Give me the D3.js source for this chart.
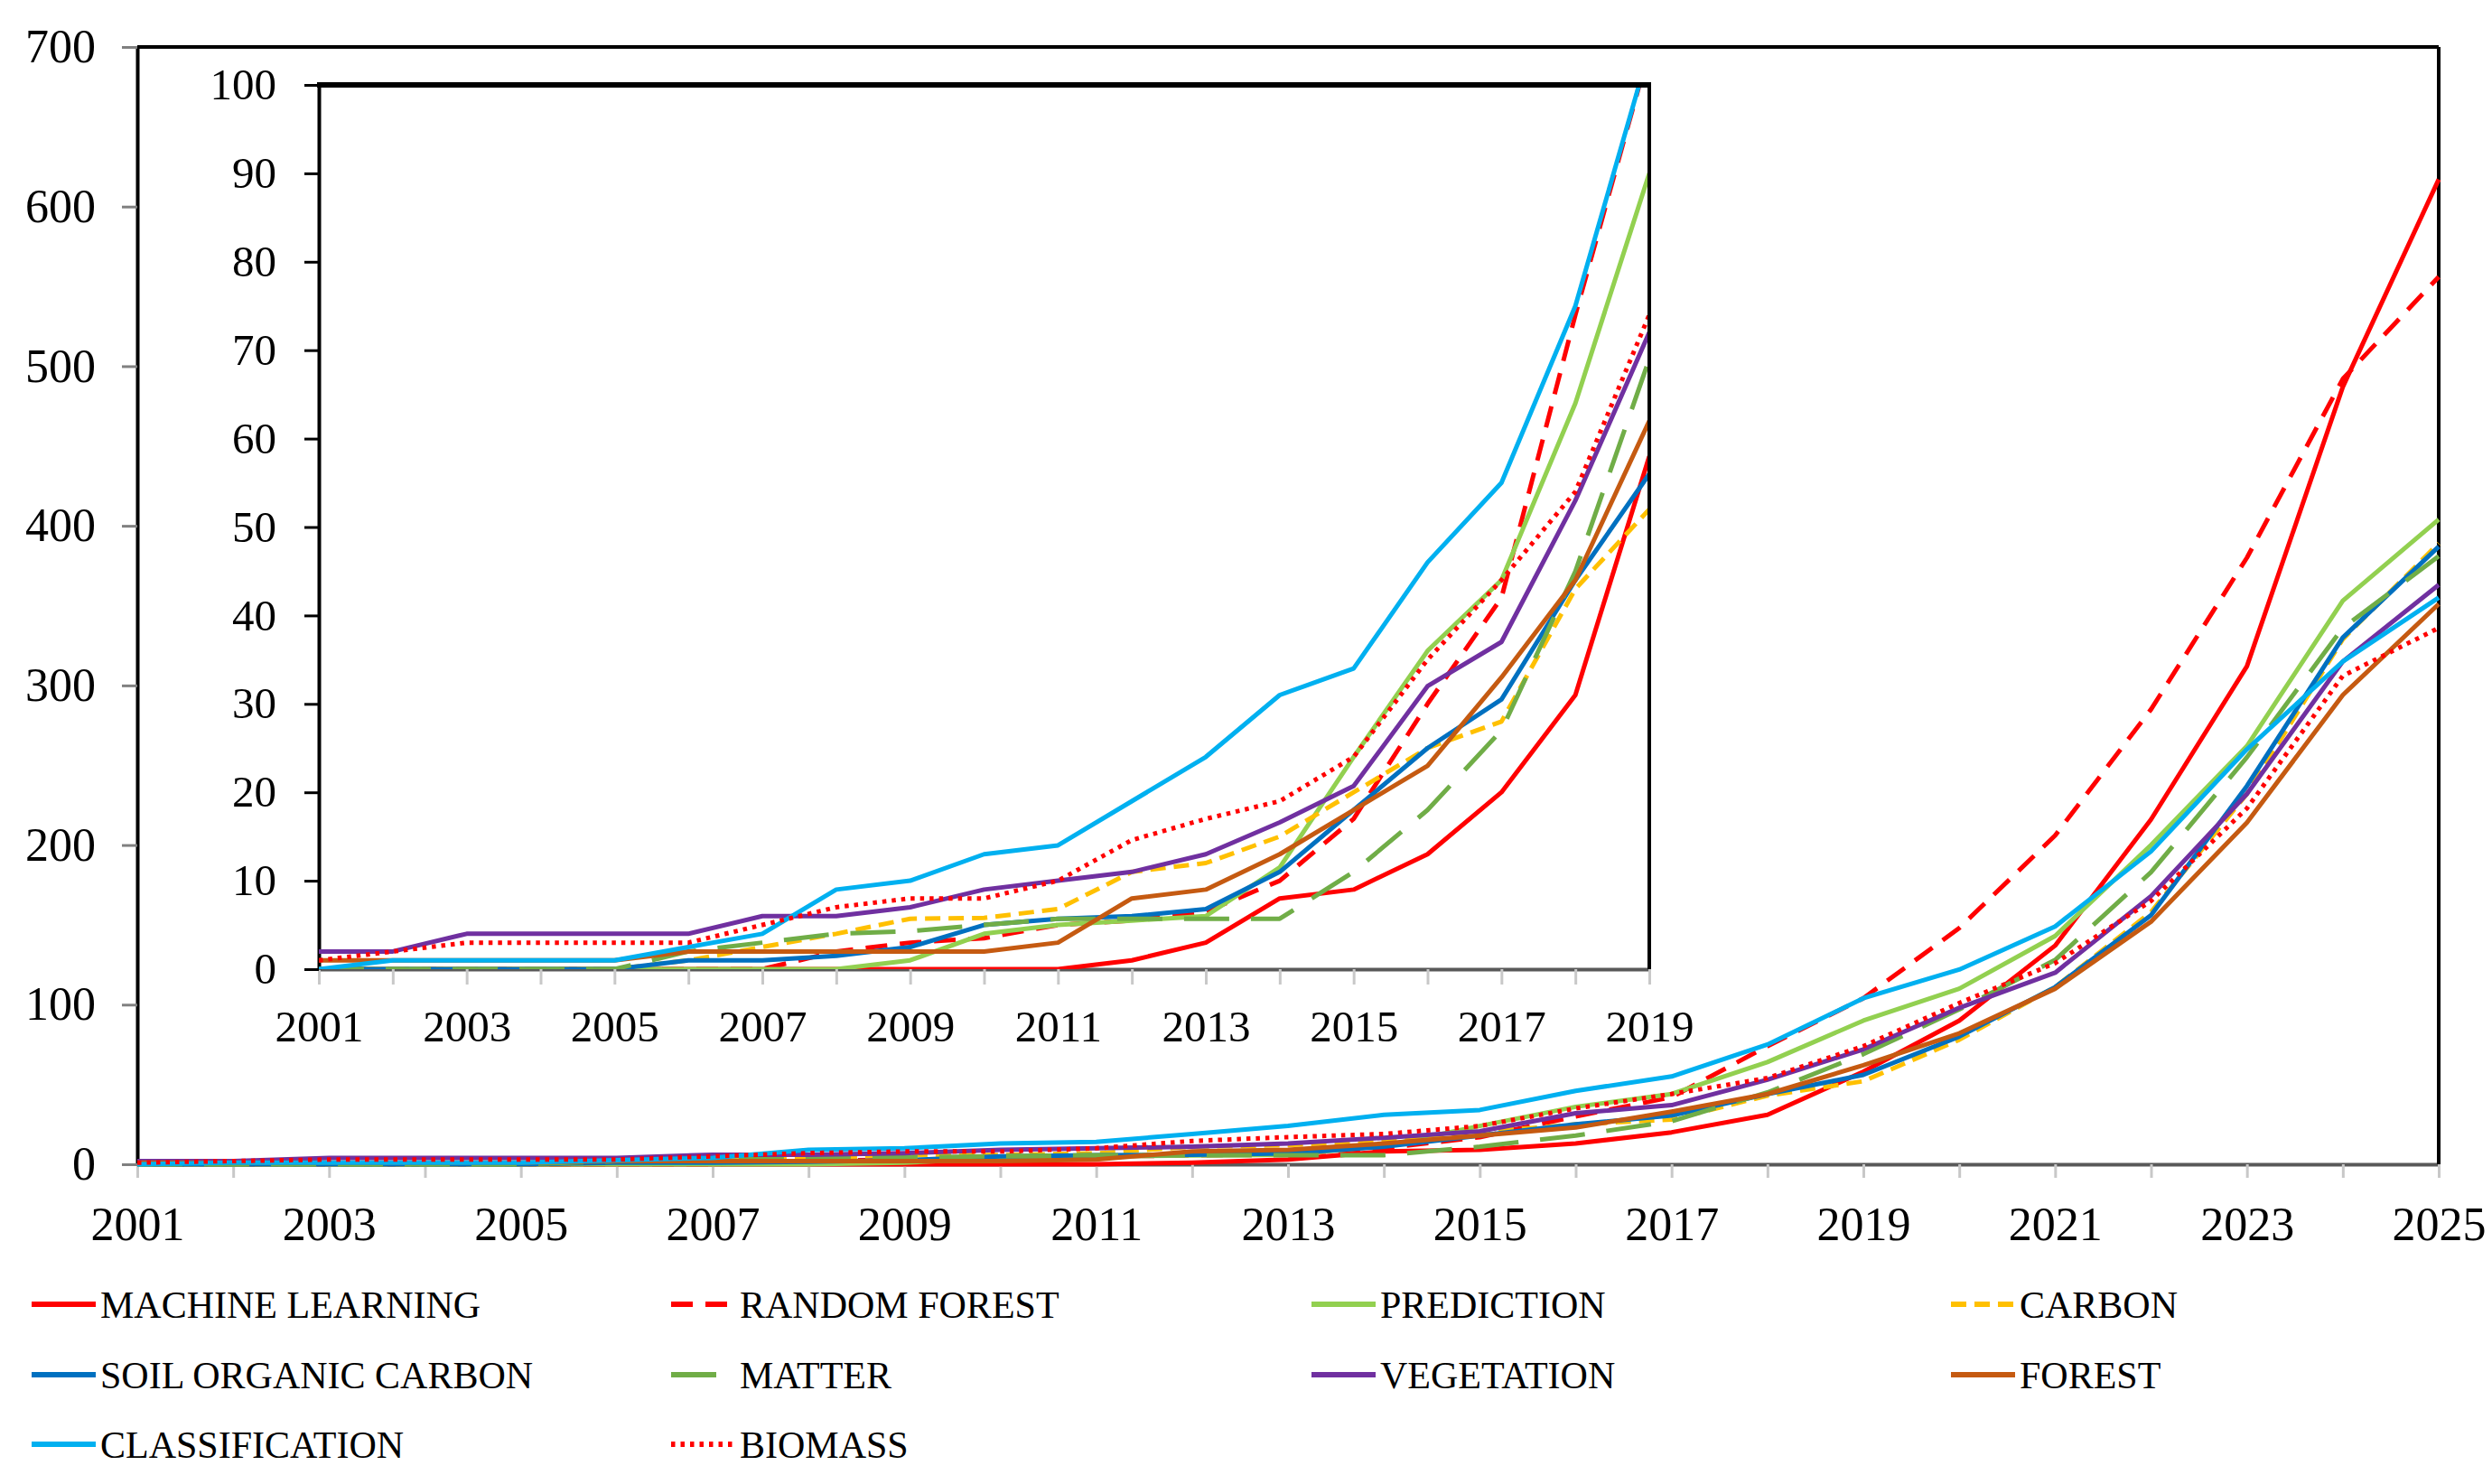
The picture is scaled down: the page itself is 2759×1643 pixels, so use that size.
<!DOCTYPE html>
<html lang="en">
<head>
  <meta charset="UTF-8">
  <title>Keyword trends 2001-2025</title>
  <style>
    body { margin: 0; background: #fff; }
    svg { display: block; }
    text { font-family: "Liberation Serif", "Times New Roman", serif; fill: #000; }
  </style>
</head>
<body>
<div id="chart"></div>
<script src="https://cdn.jsdelivr.net/npm/d3@7"></script>
<script>
  // values (publications per year)
  var years = [2001, 2002, 2003, 2004, 2005, 2006, 2007, 2008, 2009, 2010, 2011, 2012, 2013,
               2014, 2015, 2016, 2017, 2018, 2019, 2020, 2021, 2022, 2023, 2024, 2025];

  var machineLearning   = [0, 0, 0, 0, 0, 0, 0, 0, 0, 0, 0, 1, 3, 8, 9, 13, 20, 31, 58, 90, 137, 216, 312, 487, 617];
  var randomForest      = [0, 0, 0, 0, 0, 0, 0, 2, 3, 3.5, 5, 5.5, 6.5, 10, 17, 30, 42, 74, 104, 148, 206, 285, 380, 492, 556];
  var prediction        = [0, 0, 0, 0, 0, 0, 0, 0, 1, 4, 5, 5.5, 6, 11.5, 24, 36, 44, 64, 90, 110, 143, 200, 262, 353, 404];
  var carbon            = [0, 0, 0, 0, 0, 1, 2.5, 4, 5.7, 5.8, 6.8, 11, 12, 15, 20, 25, 28, 43, 52, 78, 111, 158, 232, 329, 389];
  var soilOrganicCarbon = [0, 0, 0, 0, 0, 1, 1, 1.5, 2.5, 5, 5.7, 6, 6.8, 11, 18, 25, 30.5, 44, 56, 80, 111, 156, 237, 330, 387];
  var matter            = [0, 0, 0, 0, 0, 2, 3, 4, 4.3, 5, 5.7, 5.7, 5.7, 5.7, 11, 18, 27, 45, 69, 97, 128, 183, 255, 336, 381];
  var vegetation        = [2, 2, 4, 4, 4, 4, 6, 6, 7, 9, 10, 11, 13, 16.6, 20.7, 32, 37, 53, 72, 98, 120, 168, 232, 315, 363];
  var forest            = [1, 1, 1, 1, 1, 2, 2, 2, 2, 2, 3, 8, 9, 13, 18, 23, 33, 44, 62, 82, 110, 152, 214, 294, 351];
  var classification    = [0, 1, 1, 1, 1, 2.5, 4, 9, 10, 13, 14, 19, 24, 31, 34, 46, 55, 75, 104, 122, 149, 196, 260, 315, 355];
  var biomass           = [1, 2, 3, 3, 3, 3, 5, 7, 8, 8, 10, 14.6, 17, 19, 24, 35, 44, 54, 74, 101, 126, 165, 223, 306, 336];

  var seriesNames = ["MACHINE LEARNING", "RANDOM FOREST", "PREDICTION", "CARBON",
                     "SOIL ORGANIC CARBON", "MATTER", "VEGETATION", "FOREST",
                     "CLASSIFICATION", "BIOMASS"];
  var seriesValues = [machineLearning, randomForest, prediction, carbon, soilOrganicCarbon,
                      matter, vegetation, forest, classification, biomass];

  var mainTicks = [0, 100, 200, 300, 400, 500, 600, 700];
  var insetTicks = [0, 10, 20, 30, 40, 50, 60, 70, 80, 90, 100];
  var insetLastYear = 2019;

  // one style per series, same order as seriesNames
  var styles = [
    { color: "#FF0000", dash: null },
    { color: "#FF0000", dash: "24,14" },
    { color: "#92D050", dash: null },
    { color: "#FFC000", dash: "17,9" },
    { color: "#0070C0", dash: null },
    { color: "#70AD47", dash: "50,24" },
    { color: "#7030A0", dash: null },
    { color: "#C55A11", dash: null },
    { color: "#00B0F0", dash: null },
    { color: "#FF0000", dash: "4.5,6" }
  ];
  var lineWidth = 5;

  var series = seriesNames.map(function (name, i) {
    return {
      name: name,
      style: styles[i],
      points: years.map(function (yr, j) { return { year: yr, value: seriesValues[i][j] }; })
    };
  });

  var W = 2759, H = 1643;
  var svg = d3.select("#chart").append("svg").attr("width", W).attr("height", H);

  function styleAxis(g, fontSize, tickColor, domainColor) {
    g.selectAll("text").attr("font-size", fontSize).style("font-family", '"Liberation Serif", "Times New Roman", serif');
    g.selectAll(".tick line").attr("stroke", tickColor).attr("stroke-width", 3);
    g.select(".domain").attr("stroke", domainColor).attr("stroke-width", 4);
  }

  function drawLines(g, x, y, data) {
    var line = d3.line().x(function (d) { return x(d.year); }).y(function (d) { return y(d.value); });
    g.selectAll("path.series")
      .data(data)
      .join("path")
      .attr("class", "series")
      .attr("fill", "none")
      .attr("stroke", function (d) { return d.style.color; })
      .attr("stroke-width", lineWidth)
      .attr("stroke-linejoin", "round")
      .attr("stroke-dasharray", function (d) { return d.style.dash; })
      .attr("d", function (d) { return line(d.points); });
  }

  // ---- main chart ----
  var x = d3.scaleLinear().domain([2001, 2025]).range([152, 2700]);
  var y = d3.scaleLinear().domain([0, 700]).range([1289, 52]);

  svg.append("g")
    .attr("transform", "translate(0," + y(0) + ")")
    .call(d3.axisBottom(x).tickValues(years).tickSize(15).tickSizeOuter(0).tickPadding(32)
      .tickFormat(function (d) { return (d - 2001) % 2 === 0 ? d : ""; }))
    .call(styleAxis, 52, "#c8c8c8", "#595959");

  svg.append("g")
    .attr("transform", "translate(" + x(2001) + ",0)")
    .call(d3.axisLeft(y).tickValues(mainTicks).tickSize(17).tickSizeOuter(0).tickPadding(29))
    .call(styleAxis, 52, "#808080", "#000");

  svg.append("line")
    .attr("x1", x(2001)).attr("x2", x(2025)).attr("y1", y(700)).attr("y2", y(700))
    .attr("stroke", "#000").attr("stroke-width", 4);
  svg.append("line")
    .attr("x1", x(2025)).attr("x2", x(2025)).attr("y1", y(0)).attr("y2", y(700))
    .attr("stroke", "#000").attr("stroke-width", 4);

  drawLines(svg.append("g"), x, y, series);

  // ---- inset (2001-2019, 0-100) ----
  var insetYears = years.filter(function (yr) { return yr <= insetLastYear; });
  var xi = d3.scaleLinear().domain([2001, insetLastYear]).range([353, 1826]);
  var yi = d3.scaleLinear().domain([0, 100]).range([1073, 94]);

  var inset = svg.append("g");
  inset.append("rect")
    .attr("x", xi(2001)).attr("y", yi(100))
    .attr("width", xi(insetLastYear) - xi(2001)).attr("height", yi(0) - yi(100))
    .attr("fill", "#fff");

  inset.append("clipPath").attr("id", "inset-clip")
    .append("rect")
    .attr("x", xi(2001)).attr("y", yi(100))
    .attr("width", xi(insetLastYear) - xi(2001)).attr("height", yi(0) - yi(100));

  inset.append("g")
    .attr("transform", "translate(0," + yi(0) + ")")
    .call(d3.axisBottom(xi).tickValues(insetYears).tickSize(17).tickSizeOuter(0).tickPadding(28)
      .tickFormat(function (d) { return (d - 2001) % 2 === 0 ? d : ""; }))
    .call(styleAxis, 49, "#c8c8c8", "#595959");

  inset.append("g")
    .attr("transform", "translate(" + xi(2001) + ",0)")
    .call(d3.axisLeft(yi).tickValues(insetTicks).tickSize(16).tickSizeOuter(0).tickPadding(31))
    .call(styleAxis, 49, "#000", "#000");

  var insetSeries = series.map(function (s) {
    return { name: s.name, style: s.style, points: s.points.filter(function (p) { return p.year <= insetLastYear; }) };
  });
  drawLines(inset.append("g").attr("clip-path", "url(#inset-clip)"), xi, yi, insetSeries);

  inset.append("line")
    .attr("x1", xi(2001) - 2).attr("x2", xi(insetLastYear) + 2).attr("y1", yi(100)).attr("y2", yi(100))
    .attr("stroke", "#000").attr("stroke-width", 6);
  inset.append("line")
    .attr("x1", xi(insetLastYear)).attr("x2", xi(insetLastYear)).attr("y1", yi(0)).attr("y2", yi(100))
    .attr("stroke", "#000").attr("stroke-width", 4);

  // ---- legend, 4 columns ----
  var legendCols = [35, 743, 1452, 2160];
  var legendRows = [1444, 1522, 1599];
  var legend = svg.append("g");
  series.forEach(function (s, i) {
    var lx = legendCols[i % 4], ly = legendRows[Math.floor(i / 4)];
    var item = legend.append("g").attr("transform", "translate(" + lx + "," + ly + ")");
    item.append("line")
      .attr("x1", 0).attr("x2", 71).attr("y1", 0).attr("y2", 0)
      .attr("stroke", s.style.color).attr("stroke-width", lineWidth + 1)
      .attr("stroke-dasharray", s.style.dash);
    item.append("text")
      .attr("x", 76).attr("dy", "0.35em")
      .attr("font-size", 42)
      .text(s.name);
  });
</script>
</body>
</html>
